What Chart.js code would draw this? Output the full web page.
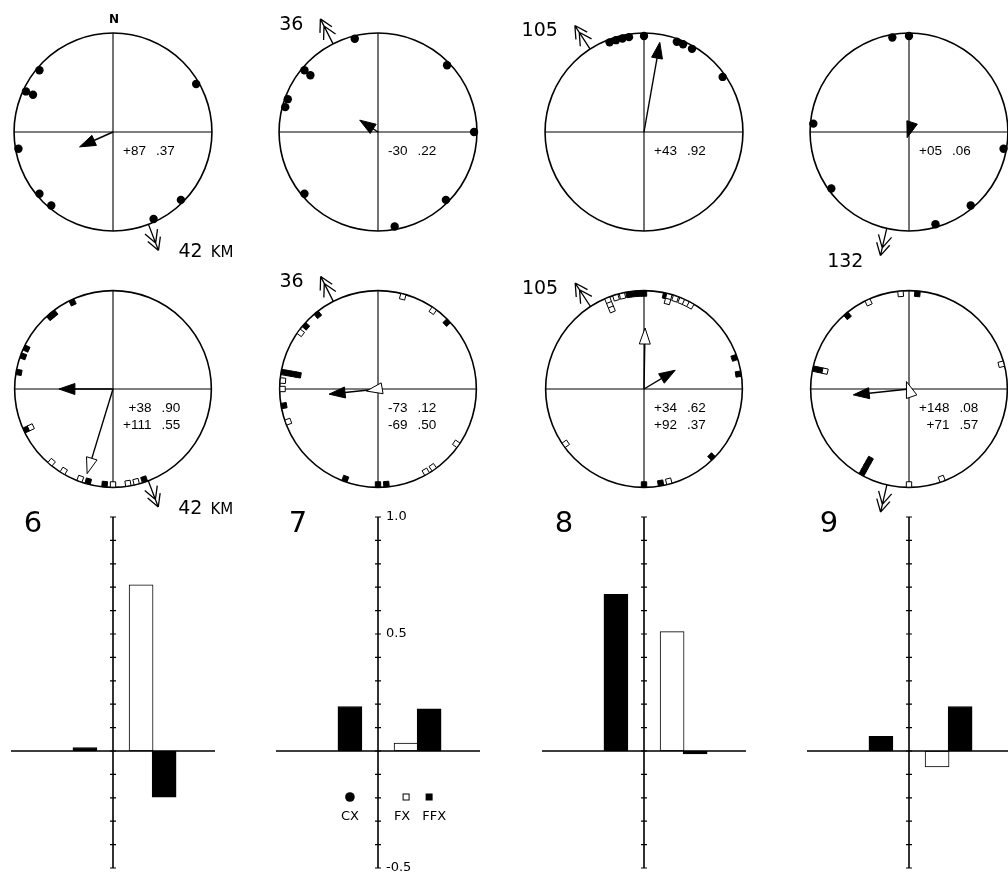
<!DOCTYPE html>
<html>
<head>
<meta charset="utf-8">
<script src="https://cdn.jsdelivr.net/npm/chart.js@4.4.0/dist/chart.umd.min.js"></script>
<style>
  html, body { margin: 0; padding: 0; background: #fff; overflow: hidden; }
  body { width: 1008px; height: 872px; position: relative; }
</style>
</head>
<body>
<script>
// bearings in degrees, clockwise from north
const homeBearing = [159, 333, 327, 193];
const homeLabelTop = ['42 KM', '36', '105', '132'];
const homeLabelBottom = ['42 KM', '36', '105', ''];

// top row: CX release bearings and mean vector (angle to home, length)
const cxPoints = [
  [310, 295, 295, 60, 260, 230, 220, 135, 155],
  [346, 310, 310, 290, 285, 46, 90, 230, 135, 170],
  [339, 343, 347, 351, 0, 20, 24, 30, 55],
  [350, 0, 275, 100, 234, 140, 164]
];
const cxMean = [[87, 0.37], [-30, 0.22], [43, 0.92], [5, 0.06]];

// bottom row: FX (open squares) and FFX (filled squares)
const fxPoints = [
  [245, 220, 211, 200, 180, 171, 166],
  [15, 35, 306, 275, 270, 250, 125, 145, 150],
  [338, 338, 338, 343, 347, 15, 15, 19, 23, 26, 29, 165, 235],
  [355, 335, 282, 75, 180, 160]
];
const ffxPoints = [
  [335, 322, 319, 295, 290, 280, 245, 195, 185, 161],
  [46, 321, 311, 280, 280, 280, 280, 260, 200, 180, 175],
  [351, 354, 357, 0, 13, 71, 81, 135, 170, 180],
  [5, 320, 282, 282, 209, 209, 209, 209]
];
const fxMean = [[38, 0.90], [-73, 0.12], [34, 0.62], [148, 0.08]];
const ffxMean = [[111, 0.55], [-69, 0.50], [92, 0.37], [71, 0.57]];

// bar charts
const panelNumbers = ['6', '7', '8', '9'];
const barGroups = ['CX', 'FX', 'FFX'];
const cxValues = [0.015, 0.19, 0.67, 0.063];
const fxValues = [0.71, 0.034, 0.51, -0.068];
const ffxValues = [-0.197, 0.18, -0.013, 0.19];
const yTickLabels = [1.0, 0.5, -0.5];

const DEG = Math.PI / 180;
const R_PX = 102;
const EXT = 140 / R_PX;
const colX = [113, 378, 644, 909];
const rowY = [132, 389];
const barSlot = [-1.17, 1.17, 2.13];

function makeCanvas(left, top, w, h) {
  const c = document.createElement('canvas');
  c.width = w; c.height = h;
  c.style.cssText = `position:absolute;left:${left}px;top:${top}px;width:${w}px;height:${h}px`;
  document.body.appendChild(c);
  return c;
}

function dir(b) { return [Math.sin(b * DEG), -Math.cos(b * DEG)]; }
function fmtAngle(a) { return (a < 0 ? '-' : '+') + String(Math.abs(a)).padStart(2, '0'); }
function fmtR(r) { return r.toFixed(2).replace(/^0/, ''); }

function polarData(bearings, step, stack) {
  return bearings.map(b => {
    const lvl = stack[b] || 0;
    stack[b] = lvl + 1;
    const rr = (R_PX - 3 - lvl * step) / R_PX;
    return { x: rr * Math.sin(b * DEG), y: rr * Math.cos(b * DEG), b };
  });
}

function drawHead(ctx, tx, ty, ux, uy, filled) {
  const L = 16, W = 5.5;
  const bx = tx - ux * L, by = ty - uy * L;
  ctx.beginPath();
  ctx.moveTo(tx, ty);
  ctx.lineTo(bx - uy * W, by + ux * W);
  ctx.lineTo(bx + uy * W, by - ux * W);
  ctx.closePath();
  ctx.fillStyle = filled ? '#000' : '#fff';
  ctx.fill();
  ctx.stroke();
}

function meanArrow(ctx, cx, cy, R, bearing, r, filled) {
  const [ux, uy] = dir(bearing);
  const len = r * R;
  ctx.strokeStyle = '#000';
  ctx.lineWidth = 1.4;
  const shaft = filled ? len - 4 : len - 16;
  if (shaft > 0) {
    ctx.beginPath();
    ctx.moveTo(cx, cy);
    ctx.lineTo(cx + ux * shaft, cy + uy * shaft);
    ctx.stroke();
  }
  ctx.lineWidth = 1;
  drawHead(ctx, cx + ux * len, cy + uy * len, ux, uy, filled);
}

function homeArrow(ctx, cx, cy, R, b) {
  const [ux, uy] = dir(b);
  const x0 = cx + ux * R, y0 = cy + uy * R;
  const x1 = cx + ux * (R + 28), y1 = cy + uy * (R + 28);
  ctx.strokeStyle = '#000';
  ctx.lineWidth = 1.3;
  ctx.beginPath();
  ctx.moveTo(x0, y0);
  ctx.lineTo(x1, y1);
  const base = Math.atan2(uy, ux) + Math.PI;
  [0, 8].forEach(back => {
    const px = x1 - ux * back, py = y1 - uy * back;
    [-1, 1].forEach(s => {
      ctx.moveTo(px, py);
      ctx.lineTo(px + Math.cos(base + s * 0.5) * 14, py + Math.sin(base + s * 0.5) * 14);
    });
  });
  ctx.stroke();
  return [x1, y1, ux];
}

function homeText(ctx, label, tip) {
  if (!label) return;
  const [x, y, ux] = tip;
  ctx.fillStyle = '#000';
  ctx.textBaseline = 'middle';
  const parts = label.split(' ');
  if (ux > 0.2) {
    ctx.textAlign = 'left';
    ctx.font = '19px "DejaVu Sans"';
    ctx.fillText(parts[0], x + 20, y + 2);
    const w = ctx.measureText(parts[0]).width;
    if (parts[1]) {
      ctx.font = '15px "DejaVu Sans"';
      ctx.fillText(parts[1], x + 20 + w + 8, y + 3);
    }
  } else {
    ctx.textAlign = 'right';
    ctx.font = '19px "DejaVu Sans"';
    ctx.fillText(label, x - 17, y + 6);
  }
}

function circlePanel(col, row) {
  const cx = colX[col], cy = rowY[row];
  const canvas = makeCanvas(cx - 140, cy - 140, 280, 280);
  const stack = {};
  let datasets, means;
  if (row === 0) {
    datasets = [{
      data: polarData(cxPoints[col], 8, stack),
      pointStyle: 'circle', pointRadius: 4.2,
      pointBackgroundColor: '#000', pointBorderColor: '#000', pointBorderWidth: 0
    }];
    means = [[cxMean[col], true]];
  } else {
    const ffx = polarData(ffxPoints[col], 5, stack);
    const fx = polarData(fxPoints[col], 5, stack);
    datasets = [
      { data: fx, pointStyle: 'rect', pointRadius: 3.8,
        pointRotation: c => (c.raw ? c.raw.b : 0),
        pointBackgroundColor: '#fff', pointBorderColor: '#000', pointBorderWidth: 1 },
      { data: ffx, pointStyle: 'rect', pointRadius: 3.8,
        pointRotation: c => (c.raw ? c.raw.b : 0),
        pointBackgroundColor: '#000', pointBorderColor: '#000', pointBorderWidth: 1 }
    ];
    means = [[ffxMean[col], true], [fxMean[col], false]];
  }

  const panelPlugin = {
    id: 'circlePanel' + col + row,
    beforeDatasetsDraw(chart) {
      const { ctx } = chart;
      const xs = chart.scales.x, ys = chart.scales.y;
      const px = xs.getPixelForValue(0), py = ys.getPixelForValue(0);
      const R = xs.getPixelForValue(1) - px;
      ctx.save();
      ctx.strokeStyle = '#000';
      ctx.lineWidth = 1.6;
      ctx.beginPath();
      ctx.arc(px, py, R, 0, Math.PI * 2);
      ctx.stroke();
      ctx.lineWidth = 1.1;
      ctx.beginPath();
      ctx.moveTo(xs.getPixelForValue(-1), py);
      ctx.lineTo(xs.getPixelForValue(1), py);
      ctx.moveTo(px, ys.getPixelForValue(1));
      ctx.lineTo(px, ys.getPixelForValue(-1));
      ctx.stroke();

      const tip = homeArrow(ctx, px, py, R, homeBearing[col]);
      homeText(ctx, row === 0 ? homeLabelTop[col] : homeLabelBottom[col], tip);

      if (row === 0 && col === 0) {
        ctx.font = 'bold 12px "DejaVu Sans"';
        ctx.textAlign = 'center';
        ctx.textBaseline = 'middle';
        ctx.fillStyle = '#000';
        ctx.fillText('N', px + 1, py - R - 13);
      }

      // mean vector numbers
      ctx.font = '13.5px "Liberation Sans"';
      ctx.textBaseline = 'middle';
      const lines = row === 0 ? [cxMean[col]] : [fxMean[col], ffxMean[col]];
      const maxW = Math.max(...lines.map(l => ctx.measureText(fmtAngle(l[0])).width));
      const left = px + 10;
      lines.forEach((l, i) => {
        const y = py + 19 + i * 17;
        ctx.textAlign = 'right';
        ctx.fillText(fmtAngle(l[0]), left + maxW, y);
        ctx.textAlign = 'left';
        ctx.fillText(fmtR(l[1]), left + maxW + 10, y);
      });
      ctx.restore();
    },
    afterDatasetsDraw(chart) {
      const { ctx } = chart;
      const xs = chart.scales.x, ys = chart.scales.y;
      const px = xs.getPixelForValue(0), py = ys.getPixelForValue(0);
      const R = xs.getPixelForValue(1) - px;
      ctx.save();
      means.forEach(([m, filled]) => {
        meanArrow(ctx, px, py, R, homeBearing[col] + m[0], m[1], filled);
      });
      ctx.restore();
    }
  };

  new Chart(canvas, {
    type: 'scatter',
    data: { datasets },
    options: {
      responsive: false, animation: false, events: [],
      layout: { padding: 0 },
      scales: {
        x: { display: false, min: -EXT, max: EXT },
        y: { display: false, min: -EXT, max: EXT }
      },
      plugins: { legend: { display: false }, tooltip: { enabled: false } }
    },
    plugins: [panelPlugin]
  });
}

function barPanel(col) {
  const ax = colX[col];
  const canvas = makeCanvas(ax - 130, 505, 260, 367);
  const values = [cxValues[col], fxValues[col], ffxValues[col]];

  const barPlugin = {
    id: 'barPanel' + col,
    afterDatasetsDraw(chart) {
      const { ctx, chartArea } = chart;
      const xs = chart.scales.x, ys = chart.scales.y;
      const x0 = xs.getPixelForValue(0), y0 = ys.getPixelForValue(0);
      ctx.save();
      ctx.strokeStyle = '#000';
      ctx.lineWidth = 1.6;
      ctx.beginPath();
      ctx.moveTo(x0, chartArea.top);
      ctx.lineTo(x0, chartArea.bottom);
      ctx.moveTo(chartArea.left, y0);
      ctx.lineTo(chartArea.right, y0);
      ctx.stroke();
      ctx.lineWidth = 1.2;
      ctx.beginPath();
      for (let k = -5; k <= 10; k++) {
        const y = ys.getPixelForValue(k / 10);
        ctx.moveTo(x0 - 3, y);
        ctx.lineTo(x0 + 3, y);
      }
      ctx.stroke();

      ctx.fillStyle = '#000';
      ctx.font = '29px "DejaVu Sans"';
      ctx.textAlign = 'center';
      ctx.textBaseline = 'middle';
      ctx.fillText(panelNumbers[col], x0 - 80, chartArea.top + 7);

      if (col === 1) {
        ctx.font = '13px "DejaVu Sans"';
        ctx.textAlign = 'left';
        yTickLabels.forEach(v => {
          ctx.fillText(v.toFixed(1), x0 + 8, ys.getPixelForValue(v));
        });
        // legend under each bar slot
        const ly = y0 + 46;
        ctx.beginPath();
        ctx.arc(xs.getPixelForValue(barSlot[0]), ly, 4.8, 0, Math.PI * 2);
        ctx.fill();
        ctx.lineWidth = 1;
        ctx.fillStyle = '#fff';
        ctx.fillRect(xs.getPixelForValue(barSlot[1]) - 3, ly - 3, 6, 6);
        ctx.strokeRect(xs.getPixelForValue(barSlot[1]) - 3, ly - 3, 6, 6);
        ctx.fillStyle = '#000';
        ctx.fillRect(xs.getPixelForValue(barSlot[2]) - 3.5, ly - 3.5, 7, 7);
        ctx.textAlign = 'center';
        barGroups.forEach((g, i) => {
          ctx.fillText(g, xs.getPixelForValue(barSlot[i]) + (i === 1 ? -4 : i === 2 ? 5 : 0), y0 + 66);
        });
      }
      ctx.restore();
    }
  };

  new Chart(canvas, {
    type: 'bar',
    data: {
      datasets: [{
        data: values.map((v, i) => ({ x: barSlot[i], y: v })),
        backgroundColor: ['#000', '#fff', '#000'],
        borderColor: '#000',
        borderWidth: 1,
        borderSkipped: false,
        barThickness: 24
      }]
    },
    options: {
      responsive: false, animation: false, events: [],
      layout: { padding: { left: 28, right: 28, top: 12, bottom: 4 } },
      scales: {
        x: { type: 'linear', display: false, offset: false, min: -4.25, max: 4.25 },
        y: { display: false, min: -0.5, max: 1.0 }
      },
      plugins: { legend: { display: false }, tooltip: { enabled: false } }
    },
    plugins: [barPlugin]
  });
}

for (let col = 0; col < 4; col++) {
  circlePanel(col, 0);
  circlePanel(col, 1);
  barPanel(col);
}
</script>
</body>
</html>
